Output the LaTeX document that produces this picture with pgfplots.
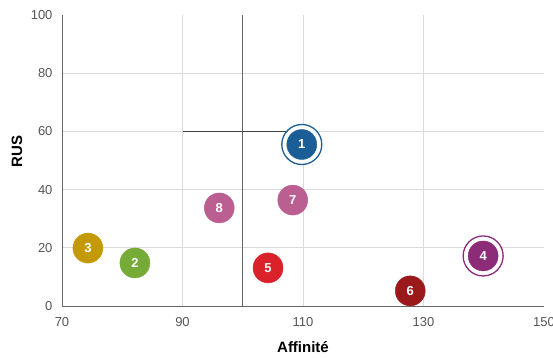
\documentclass[border=0pt]{standalone}
\usepackage{pgfplots}
\pgfplotsset{compat=1.18}
\usepackage{fontspec}
\setmainfont{Liberation Sans}
\definecolor{c1}{HTML}{1B5E97}
\definecolor{c2}{HTML}{77AB38}
\definecolor{c3}{HTML}{C39A06}
\definecolor{c4}{HTML}{8C2C78}
\definecolor{c5}{HTML}{D92229}
\definecolor{c6}{HTML}{9A1A1C}
\definecolor{c7}{HTML}{BB5F92}
\definecolor{c8}{HTML}{BB5F92}
\definecolor{gridc}{HTML}{DADADA}
\definecolor{axc}{HTML}{666666}
\definecolor{tickc}{HTML}{555555}
\pgfplotsset{
  bub/.style={only marks, mark=*, mark size=15pt, color=#1,
    nodes near coords, point meta=explicit symbolic,
    every node near coord/.style={anchor=center, text=white, font=\fontsize{13}{15}\selectfont\bfseries}},
  ring/.style={only marks, mark=*, mark size=20pt, draw=#1, fill=white, line width=1.3pt,
    mark options={draw=#1, fill=white, line width=1.3pt}},
}
\begin{document}
\begin{tikzpicture}
\begin{axis}[
  at={(0,0)}, anchor=south west,
  scale only axis, width=482pt, height=291pt,
  xmin=70, xmax=150, ymin=0, ymax=100,
  clip=false,
  axis x line=bottom, axis y line=left,
  axis line style={draw=axc, line width=0.9pt, -},
  xtick={70,90,110,130}, extra x ticks={150},
  ytick={0,20,40,60,80}, extra y ticks={100},
  extra tick style={grid=none},
  grid=major,
  major grid style={draw=gridc, line width=0.9pt},
  major tick length=0pt,
  /pgf/number format/assume math mode=true,
  tick label style={font=\fontsize{13}{15}\selectfont, text=tickc},
  xticklabel style={yshift=-8pt},
  yticklabel style={xshift=-6pt},
  xlabel={\textbf{Affinité}},
  ylabel={\textbf{RUS}},
  label style={font=\fontsize{15}{17}\selectfont},
  xlabel style={at={(axis description cs:0.5,-0.141)}, anchor=center},
  ylabel style={at={(axis description cs:-0.0934,0.53)}, anchor=center, rotate=0},
]
\addplot[draw=axc, line width=0.9pt] coordinates {(100,0) (100,100)};
\addplot[draw=black!75, line width=0.9pt] coordinates {(90,60) (110,60)};
\addplot[ring=c1] coordinates {(109.8,55.5)};
\addplot[ring=c4] coordinates {(139.9,17.2)};
\addplot[bub=c1] coordinates {(109.8,55.5) [1]};
\addplot[bub=c2] coordinates {(82.1,14.8) [2]};
\addplot[bub=c3] coordinates {(74.3,19.9) [3]};
\addplot[bub=c4] coordinates {(139.9,17.2) [4]};
\addplot[bub=c5] coordinates {(104.2,13.1) [5]};
\addplot[bub=c6] coordinates {(127.8,5.2) [6]};
\addplot[bub=c7] coordinates {(108.3,36.4) [7]};
\addplot[bub=c8] coordinates {(96.1,33.7) [8]};
\end{axis}
\pgfresetboundingbox
\path[use as bounding box] (-62pt,-51pt) rectangle (491pt,306pt);
\end{tikzpicture}
\end{document}
